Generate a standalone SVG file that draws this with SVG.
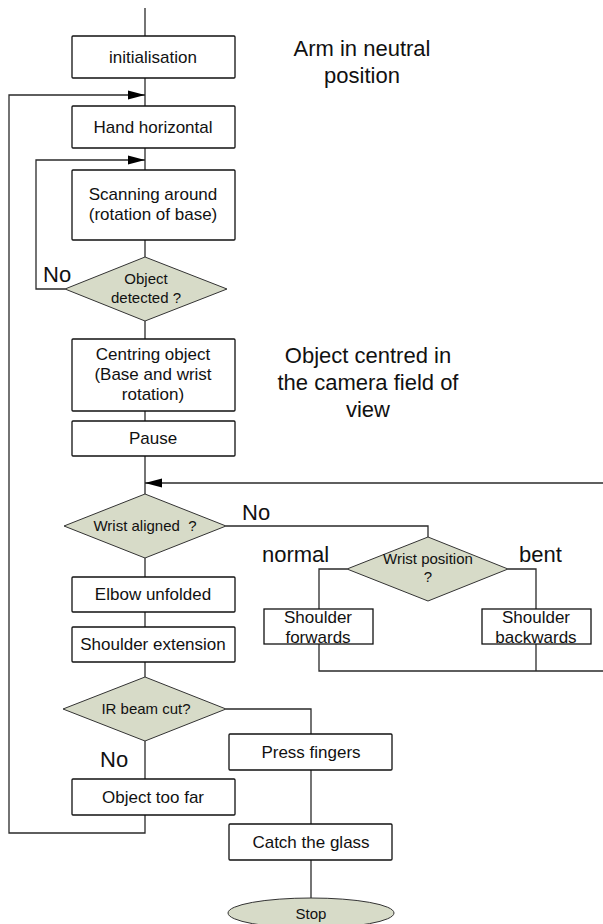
<svg xmlns="http://www.w3.org/2000/svg" width="603" height="924" viewBox="0 0 603 924">
<style>
.b{fill:#fff;stroke:#111;stroke-width:1.3}
.d{fill:#d7dbc8;stroke:#333;stroke-width:1}
.c{fill:none;stroke:#2a2a2a;stroke-width:1.3}
text{font-family:"Liberation Sans",Arial,sans-serif;fill:#111;text-anchor:middle}
.t{font-size:17px}
.s{font-size:15px}
.l{font-size:22px}
.ls{font-size:22px;text-anchor:start}
</style>
<defs>
<marker id="arr" viewBox="0 0 17 10" refX="17" refY="5" markerWidth="17" markerHeight="10" orient="auto" markerUnits="userSpaceOnUse"><path d="M0,0.5 L17,5 L0,9.5 z" fill="#000"/></marker>
</defs>
<rect width="603" height="924" fill="#fff"/>
<g id="connectors">
<path class="c" d="M145 8 V36"/>
<path class="c" d="M145 78 V106"/>
<path class="c" d="M145 815 V833 H9 V95 H145" marker-end="url(#arr)"/>
<path class="c" d="M145 148 V170"/>
<path class="c" d="M65 289 H36 V160 H145" marker-end="url(#arr)"/>
<path class="c" d="M145 240 V257"/>
<path class="c" d="M145 321 V339"/>
<path class="c" d="M145 411 V421"/>
<path class="c" d="M145 456 V494"/>
<path class="c" d="M603 483 H145" marker-end="url(#arr)"/>
<path class="c" d="M226 526 H428 V537"/>
<path class="c" d="M347 569 H319 V609"/>
<path class="c" d="M508 569 H536 V609"/>
<path class="c" d="M319 644 V671 H603"/>
<path class="c" d="M536 644 V671"/>
<path class="c" d="M145 558 V577"/>
<path class="c" d="M145 612 V627"/>
<path class="c" d="M145 662 V677"/>
<path class="c" d="M145 741 V779"/>
<path class="c" d="M226 709 H311 V734"/>
<path class="c" d="M311 770 V824"/>
<path class="c" d="M311 860 V898"/>
</g>
<g id="initialisation"><rect class="b" x="72" y="36" width="163" height="42" rx="1"/><text class="t" x="153" y="63">initialisation</text></g>
<g id="hand-horizontal"><rect class="b" x="72" y="106" width="163" height="42" rx="1"/><text class="t" x="153" y="133">Hand horizontal</text></g>
<g id="scanning"><rect class="b" x="72" y="170" width="163" height="70" rx="1"/><text class="t" x="153" y="200">Scanning around</text><text class="t" x="153" y="220">(rotation of base)</text></g>
<g id="object-detected"><polygon class="d" points="145,257 227,289 145,321 65,289"/><text class="s" x="146" y="284">Object</text><text class="s" x="146" y="303">detected ?</text></g>
<g id="centring"><rect class="b" x="72" y="339" width="163" height="72" rx="1"/><text class="t" x="153" y="360">Centring object</text><text class="t" x="153" y="380">(Base and wrist</text><text class="t" x="153" y="400">rotation)</text></g>
<g id="pause"><rect class="b" x="72" y="421" width="163" height="35" rx="1"/><text class="t" x="153" y="444">Pause</text></g>
<g id="wrist-aligned"><polygon class="d" points="145,494 226,526 145,558 64,526"/><text class="s" x="145" y="531" xml:space="preserve">Wrist aligned  ?</text></g>
<g id="wrist-position"><polygon class="d" points="428,537 508,569 428,601 347,569"/><text class="s" x="428" y="564">Wrist position</text><text class="s" x="428" y="582">?</text></g>
<g id="shoulder-forwards"><rect class="b" x="264" y="609" width="109" height="35"/><text class="t" x="318" y="623">Shoulder</text><text class="t" x="318" y="643">forwards</text></g>
<g id="shoulder-backwards"><rect class="b" x="482" y="609" width="109" height="35"/><text class="t" x="536" y="623">Shoulder</text><text class="t" x="536" y="643">backwards</text></g>
<g id="elbow-unfolded"><rect class="b" x="72" y="577" width="163" height="35" rx="1"/><text class="t" x="153" y="600">Elbow unfolded</text></g>
<g id="shoulder-extension"><rect class="b" x="72" y="627" width="163" height="35" rx="1"/><text class="t" x="153" y="650">Shoulder extension</text></g>
<g id="ir-beam"><polygon class="d" points="145,677 226,709 145,741 63,709"/><text class="s" x="146" y="714">IR beam cut?</text></g>
<g id="object-too-far"><rect class="b" x="72" y="779" width="163" height="36" rx="1"/><text class="t" x="153" y="803">Object too far</text></g>
<g id="press-fingers"><rect class="b" x="229" y="734" width="163" height="36" rx="1"/><text class="t" x="311" y="758">Press fingers</text></g>
<g id="catch-glass"><rect class="b" x="229" y="824" width="163" height="36" rx="1"/><text class="t" x="311" y="848">Catch the glass</text></g>
<g id="stop"><ellipse class="d" cx="311" cy="913" rx="83" ry="15"/><text class="s" x="311" y="919">Stop</text></g>
<g id="labels">
<text class="l" x="362" y="56">Arm in neutral</text>
<text class="l" x="362" y="83">position</text>
<text class="l" x="368" y="363">Object centred in</text>
<text class="l" x="368" y="390">the camera field of</text>
<text class="l" x="368" y="417">view</text>
<text class="ls" x="43" y="282">No</text>
<text class="ls" x="242" y="520">No</text>
<text class="ls" x="100" y="767">No</text>
<text class="ls" x="262" y="562">normal</text>
<text class="ls" x="519" y="562">bent</text>
</g>
</svg>
